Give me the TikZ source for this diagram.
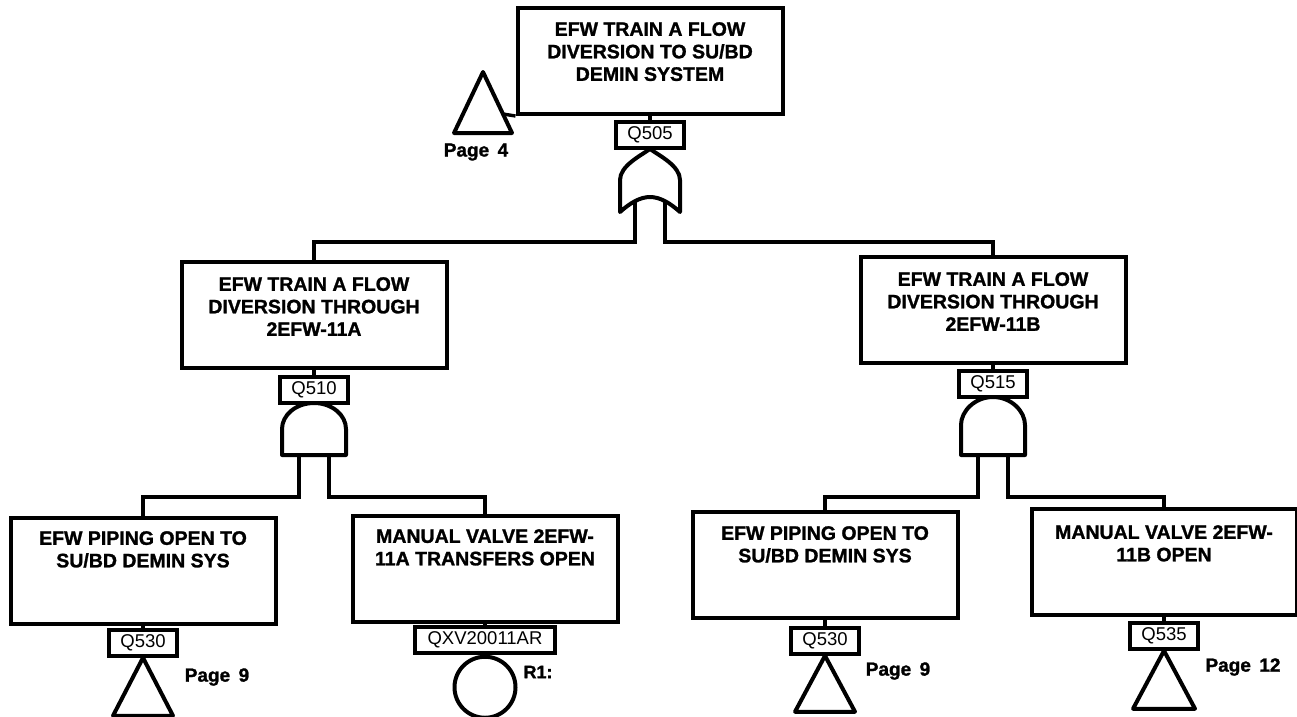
\documentclass[tikz,border=0pt]{standalone}
\usepackage{fontspec}
\setmainfont{Liberation Sans}[BoldFeatures={FakeBold=1.3}]
\tikzset{
  evbox/.style={draw, line width=4pt, minimum width=265pt, minimum height=106pt, inner sep=0pt},
  evtext/.style={font=\fontsize{19.5}{22.5}\selectfont\bfseries, align=center, anchor=north, inner sep=0pt},
  tag/.style={draw, line width=3.5pt, minimum height=26pt, minimum width=68pt, inner sep=2pt, font=\fontsize{18.5}{18.5}\selectfont},
  pg/.style={font=\fontsize{19}{19}\selectfont\bfseries, inner sep=0pt},
  conn/.style={line width=3.4pt},
  gate/.style={line width=4pt, line join=round},
}
\begin{document}
\begin{tikzpicture}[x=1pt, y=-1pt]
\fill[white] (0,0) rectangle (1297,716);
\useasboundingbox (0,0) rectangle (1297,716);

% ---------- top event ----------
\node[evbox] (t0) at (650,61) {};
\node[evtext] (t0t) at (650,22) {EFW TRAIN A FLOW\\DIVERSION TO SU/BD\\DEMIN SYSTEM};
\node[tag] (q505) at (650,135) {Q505};
\draw[conn] (t0.south) -- (q505.north);
% OR gate
\draw[gate] (620,212) -- (620,180) .. controls (620,166) and (640,156) .. (650,149)
  .. controls (660,156) and (680,166) .. (680,180) -- (680,212)
  .. controls (670,203) and (660,197) .. (650,197)
  .. controls (640,197) and (630,203) .. (620,212) -- cycle;
\coordinate (g0l) at (635,201);
\coordinate (g0r) at (665,201);
% transfer triangle page 4
\draw[gate] (483,72) -- (512,133) -- (454,133) -- cycle;
\coordinate (tri4) at (503,114);
\draw[conn] (t0.south west) -- (tri4);
\node[pg] (p4) at (476,152) {Page\, 4};

% ---------- middle events ----------
\node[evbox] (m1) at (314,315) {};
\node[evtext] (m1t) at (314,277) {EFW TRAIN A FLOW\\DIVERSION THROUGH\\2EFW-11A};
\node[evbox] (m2) at (993,310) {};
\node[evtext] (m2t) at (993,272) {EFW TRAIN A FLOW\\DIVERSION THROUGH\\2EFW-11B};

\coordinate (bus0) at (0,242);
\draw[conn] (g0l) -- (g0l |- bus0) -- (m1.north |- bus0) -- (m1.north);
\draw[conn] (g0r) -- (g0r |- bus0) -- (m2.north |- bus0) -- (m2.north);

% gate Q510
\node[tag] (q510) at (314,390) {Q510};
\draw[conn] (m1.south) -- (q510.north);
\draw[gate] (282,455) -- (282,429) .. controls (282,415) and (296,403) .. (314,403)
  .. controls (332,403) and (346,415) .. (346,429) -- (346,455) -- cycle;
\coordinate (g1l) at (299,455);
\coordinate (g1r) at (329,455);

% gate Q515
\node[tag] (q515) at (993,384) {Q515};
\draw[conn] (m2.south) -- (q515.north);
\draw[gate] (961,455) -- (961,425) .. controls (961,411) and (975,397) .. (993,397)
  .. controls (1011,397) and (1025,411) .. (1025,425) -- (1025,455) -- cycle;
\coordinate (g2l) at (978,455);
\coordinate (g2r) at (1008,455);

% ---------- bottom events ----------
\node[evbox] (b1) at (143,571) {};
\node[evtext] (b1t) at (143,531) {EFW PIPING OPEN TO\\SU/BD DEMIN SYS};
\node[evbox] (b2) at (485,569) {};
\node[evtext] (b2t) at (485,529) {MANUAL VALVE 2EFW-\\11A TRANSFERS OPEN};
\node[evbox] (b3) at (825,565) {};
\node[evtext] (b3t) at (825,526) {EFW PIPING OPEN TO\\SU/BD DEMIN SYS};
\node[evbox] (b4) at (1164,562) {};
\node[evtext] (b4t) at (1164,525) {MANUAL VALVE 2EFW-\\11B OPEN};

\coordinate (bus1) at (0,497);
\draw[conn] (g1l) -- (g1l |- bus1) -- (b1.north |- bus1) -- (b1.north);
\draw[conn] (g1r) -- (g1r |- bus1) -- (b2.north |- bus1) -- (b2.north);
\draw[conn] (g2l) -- (g2l |- bus1) -- (b3.north |- bus1) -- (b3.north);
\draw[conn] (g2r) -- (g2r |- bus1) -- (b4.north |- bus1) -- (b4.north);

% bottom labels and symbols
\node[tag] (q530a) at (143,643) {Q530};
\draw[conn] (b1.south) -- (q530a.north);
\draw[gate] (q530a.south) -- ++(30,58) -- ++(-60,0) -- cycle;
\node[pg] (p9a) at (217,677) {Page\, 9};

\node[tag, minimum width=140pt] (qxv) at (485,640) {QXV20011AR};
\draw[conn] (b2.south) -- (qxv.north);
\node[draw, circle, line width=4pt, minimum size=61pt, inner sep=0pt, anchor=north] (be) at (qxv.south) {};
\node[pg, font=\fontsize{18}{18}\selectfont\bfseries] (r1) at (538,672) {R1:};

\node[tag] (q530b) at (825,641) {Q530};
\draw[conn] (b3.south) -- (q530b.north);
\draw[gate] (q530b.south) -- ++(30,56) -- ++(-60,0) -- cycle;
\node[pg] (p9b) at (898,671) {Page\, 9};

\node[tag] (q535) at (1164,636) {Q535};
\draw[conn] (b4.south) -- (q535.north);
\draw[gate] (q535.south) -- ++(31,58) -- ++(-62,0) -- cycle;
\node[pg] (p12) at (1243,667) {Page\, 12};
\end{tikzpicture}
\end{document}
